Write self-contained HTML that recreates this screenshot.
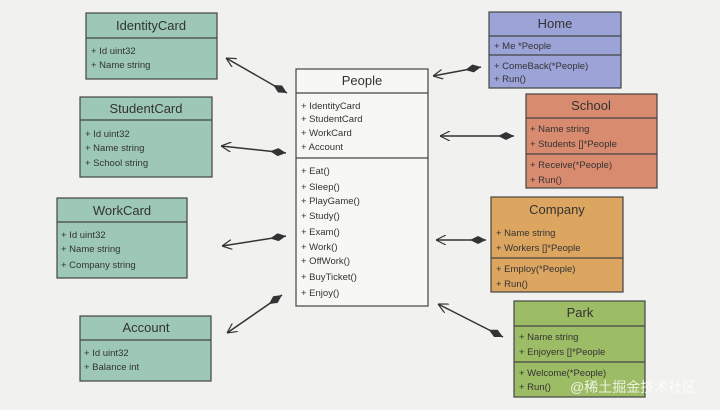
<!DOCTYPE html>
<html><head><meta charset="utf-8"><style>
html,body{margin:0;padding:0;background:#f1f1ef;}
svg{display:block}
text{font-family:"Liberation Sans",sans-serif;fill:#333;}
.t{font-size:13px;text-anchor:middle}
.f{font-size:9.5px}
</style></head><body>
<svg width="720" height="410" viewBox="0 0 720 410" xmlns="http://www.w3.org/2000/svg">
<defs>
<marker id="d" viewBox="0 0 16 8" refX="0" refY="4" markerWidth="16" markerHeight="8" markerUnits="userSpaceOnUse" orient="auto"><polygon points="0,4 8,0 16,4 8,8" fill="#333"/></marker>
<marker id="a" viewBox="0 0 10 10" refX="10" refY="5" markerWidth="10" markerHeight="10" markerUnits="userSpaceOnUse" orient="auto"><path d="M0,0 L10,5 L0,10" fill="none" stroke="#333" stroke-width="1.2"/></marker>
</defs>
<rect width="720" height="410" fill="#f1f1ef"/>
<g stroke="#444" stroke-width="1.2">
<!-- IdentityCard -->
<rect x="86" y="13" width="131" height="66" fill="#9cc8b5"/>
<line x1="86" y1="38" x2="217" y2="38"/>
<!-- StudentCard -->
<rect x="80" y="97" width="132" height="80" fill="#9cc8b5"/>
<line x1="80" y1="120" x2="212" y2="120"/>
<!-- WorkCard -->
<rect x="57" y="198" width="130" height="80" fill="#9cc8b5"/>
<line x1="57" y1="222" x2="187" y2="222"/>
<!-- Account -->
<rect x="80" y="316" width="131" height="65" fill="#9cc8b5"/>
<line x1="80" y1="340" x2="211" y2="340"/>
<!-- People -->
<rect x="296" y="69" width="132" height="237" fill="#f7f7f5"/>
<line x1="296" y1="93" x2="428" y2="93"/>
<line x1="296" y1="158" x2="428" y2="158"/>
<!-- Home -->
<rect x="489" y="12" width="132" height="76" fill="#9ba3d7"/>
<line x1="489" y1="36" x2="621" y2="36"/>
<line x1="489" y1="55" x2="621" y2="55"/>
<!-- School -->
<rect x="526" y="94" width="131" height="94" fill="#d98b6f"/>
<line x1="526" y1="118" x2="657" y2="118"/>
<line x1="526" y1="154" x2="657" y2="154"/>
<!-- Company -->
<rect x="491" y="197" width="132" height="95" fill="#dca660"/>
<line x1="491" y1="258" x2="623" y2="258"/>
<!-- Park -->
<rect x="514" y="301" width="131" height="96" fill="#9dbc66"/>
<line x1="514" y1="326" x2="645" y2="326"/>
<line x1="514" y1="362" x2="645" y2="362"/>
</g>
<g stroke="#333" stroke-width="1.5" marker-start="url(#d)" marker-end="url(#a)">
<line x1="287" y1="93" x2="226" y2="58"/>
<line x1="286" y1="153" x2="221" y2="146"/>
<line x1="286" y1="236" x2="222" y2="246"/>
<line x1="282" y1="295" x2="227" y2="333"/>
<line x1="481" y1="67" x2="433" y2="76"/>
<line x1="514" y1="136" x2="440" y2="136"/>
<line x1="486" y1="240" x2="436" y2="240"/>
<line x1="503" y1="337" x2="438" y2="304"/>
</g>
<text class="t" x="151" y="30">IdentityCard</text>
<text class="f" x="91" y="54">+ Id uint32</text>
<text class="f" x="91" y="68">+ Name string</text>
<text class="t" x="146" y="113">StudentCard</text>
<text class="f" x="85" y="137">+ Id uint32</text>
<text class="f" x="85" y="151">+ Name string</text>
<text class="f" x="85" y="166">+ School string</text>
<text class="t" x="122" y="215">WorkCard</text>
<text class="f" x="61" y="238">+ Id uint32</text>
<text class="f" x="61" y="252">+ Name string</text>
<text class="f" x="61" y="268">+ Company string</text>
<text class="t" x="146" y="332">Account</text>
<text class="f" x="84" y="356">+ Id uint32</text>
<text class="f" x="84" y="370">+ Balance int</text>
<text class="t" x="362" y="85">People</text>
<text class="f" x="301" y="109">+ IdentityCard</text>
<text class="f" x="301" y="122">+ StudentCard</text>
<text class="f" x="301" y="136">+ WorkCard</text>
<text class="f" x="301" y="150">+ Account</text>
<text class="f" x="301" y="174">+ Eat()</text>
<text class="f" x="301" y="190">+ Sleep()</text>
<text class="f" x="301" y="204">+ PlayGame()</text>
<text class="f" x="301" y="219">+ Study()</text>
<text class="f" x="301" y="235">+ Exam()</text>
<text class="f" x="301" y="250">+ Work()</text>
<text class="f" x="301" y="264">+ OffWork()</text>
<text class="f" x="301" y="280">+ BuyTicket()</text>
<text class="f" x="301" y="296">+ Enjoy()</text>
<text class="t" x="555" y="28">Home</text>
<text class="f" x="494" y="49">+ Me *People</text>
<text class="f" x="494" y="69">+ ComeBack(*People)</text>
<text class="f" x="494" y="82">+ Run()</text>
<text class="t" x="591" y="110">School</text>
<text class="f" x="530" y="132">+ Name string</text>
<text class="f" x="530" y="147">+ Students []*People</text>
<text class="f" x="530" y="168">+ Receive(*People)</text>
<text class="f" x="530" y="183">+ Run()</text>
<text class="t" x="557" y="214">Company</text>
<text class="f" x="496" y="236">+ Name string</text>
<text class="f" x="496" y="251">+ Workers []*People</text>
<text class="f" x="496" y="272">+ Employ(*People)</text>
<text class="f" x="496" y="287">+ Run()</text>
<text class="t" x="580" y="317">Park</text>
<text class="f" x="519" y="340">+ Name string</text>
<text class="f" x="519" y="355">+ Enjoyers []*People</text>
<text class="f" x="519" y="376">+ Welcome(*People)</text>
<text class="f" x="519" y="390">+ Run()</text>
<text x="570" y="392" style="font-family:'Liberation Sans','Noto Sans CJK SC',sans-serif;font-size:14px;fill:#fff;fill-opacity:0.8">@稀土掘金技术社区</text>
</svg>
</body></html>
